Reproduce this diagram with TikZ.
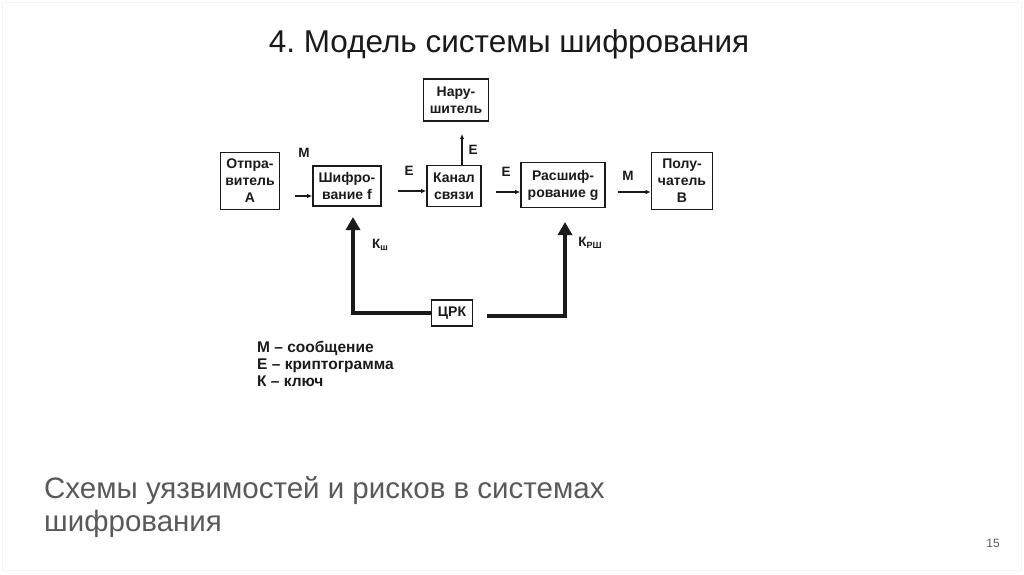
\documentclass[tikz,border=0pt]{standalone}
\usepackage{fontspec}
\setmainfont{Liberation Sans}
\usetikzlibrary{positioning,arrows.meta}
\definecolor{ink}{HTML}{1A1A1A}
\definecolor{note}{HTML}{595959}
\definecolor{frame}{HTML}{F4F4F4}

\begin{document}
\frenchspacing
\begin{tikzpicture}[
    x=1pt, y=-1pt,
    box/.style={draw=ink, line width=1.6pt, align=center, inner sep=1pt,
                font=\bfseries\fontsize{14}{17}\selectfont, text=ink},
    flow/.style={-{Latex[length=5pt,width=4.5pt]}, draw=ink, line width=1.3pt},
    keyflow/.style={-{Triangle[length=13pt,width=14pt]}, draw=ink, line width=4pt},
    lbl/.style={font=\bfseries\fontsize{13.5}{15}\selectfont, text=ink, inner sep=0pt},
  ]
  \useasboundingbox (0,0) rectangle (1024,574);
  \draw[frame, line width=1pt] (2,2) rectangle (1021,570);

  \node[font=\fontsize{31.5}{36}\selectfont, text=ink] (title) at (509,44) {4. Модель системы шифрования};

  \node[box, minimum width=59pt, minimum height=57pt] (sender) at (250,181) {Отпра-\\витель\\А};
  \node[box, minimum width=68pt, minimum height=40pt] (encr)   at (347,186) {Шифро-\\вание f};
  \node[box, minimum width=54pt, minimum height=41pt] (chan)   at (454,186) {Канал\\связи};
  \node[box, minimum width=65pt, minimum height=42pt] (intr)   at (456,100) {Нару-\\шитель};
  \node[box, minimum width=84pt, minimum height=45pt] (decr)   at (563,185) {Расшиф-\\рование g};
  \node[box, minimum width=61pt, minimum height=57pt] (recv)   at (682,181) {Полу-\\чатель\\В};
  \node[box, minimum width=41pt, minimum height=26pt] (crk)    at (452,313) {ЦРК};

  % free ends of the connectors, the figure leaves a gap after the source box
  \coordinate (m1) at (295,196);
  \coordinate (e1) at (398,191);
  \coordinate (e2) at (496,192);
  \coordinate (m2) at (618,192);
  \coordinate (e3) at (462,134);
  \coordinate (k1) at (353,217);
  \coordinate (k2) at (565,222);
  \coordinate (k3) at (487,316);

  \draw[flow] (m1) -- (m1 -| encr.west);
  \draw[flow] (e1) -- (e1 -| chan.west);
  \draw[flow] (e2) -- (e2 -| decr.west);
  \draw[flow] (m2) -- (m2 -| recv.west);
  \draw[flow] (e3 |- chan.north) -- (e3);
  \draw[keyflow] (crk.west) -| (k1);
  \draw[keyflow] (k3) -| (k2);

  \node[lbl] (lm1) at (304,153) {М};
  \node[lbl] (le1) at (409,171) {Е};
  \node[lbl] (le3) at (473,150) {Е};
  \node[lbl] (le2) at (506,172) {Е};
  \node[lbl] (lm2) at (628,176) {М};
  \node[lbl] (lk1) at (380,245) {К\raisebox{-2.5pt}{\fontsize{9}{9}\selectfont ш}};
  \node[lbl] (lk2) at (590,243) {К\raisebox{-2.5pt}{\fontsize{9}{9}\selectfont РШ}};

  \node[lbl, anchor=north west, align=left, font=\bfseries\fontsize{15.5}{17}\selectfont]
    (legend) at (257,341) {М – сообщение\\Е – криптограмма\\К – ключ};

  \node[anchor=north west, align=left, text=note, inner sep=0pt,
        font=\fontsize{29.5}{33}\selectfont] (caption) at (44,476)
    {Схемы уязвимостей и рисков в системах\\шифрования};
  \node[text=note, font=\fontsize{12}{14}\selectfont] (page) at (993,543) {15};
\end{tikzpicture}
\end{document}
